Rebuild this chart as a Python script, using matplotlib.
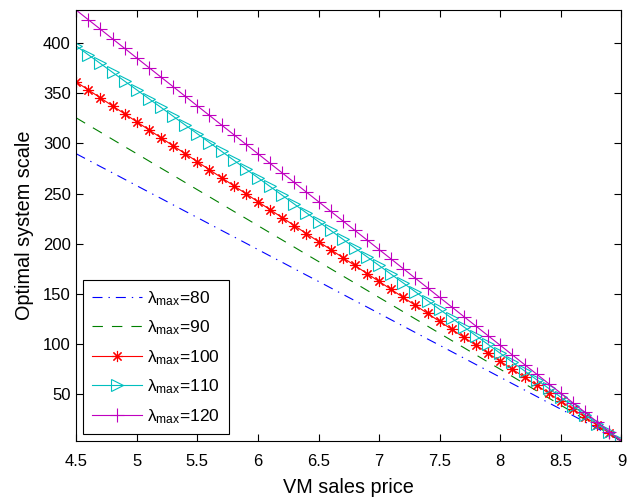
import matplotlib
matplotlib.use("Agg")
import matplotlib.pyplot as plt

plt.rcParams['font.family'] = ['Liberation Sans', 'DejaVu Sans']
plt.rcParams['mathtext.fontset'] = 'custom'
plt.rcParams['mathtext.rm'] = 'Liberation Sans'
plt.rcParams['mathtext.it'] = 'Liberation Sans:italic'
plt.rcParams['lines.scale_dashes'] = False

price = [4.5, 4.6, 4.7, 4.8, 4.9, 5.0, 5.1, 5.2, 5.3, 5.4,
         5.5, 5.6, 5.7, 5.8, 5.9, 6.0, 6.1, 6.2, 6.3, 6.4,
         6.5, 6.6, 6.7, 6.8, 6.9, 7.0, 7.1, 7.2, 7.3, 7.4,
         7.5, 7.6, 7.7, 7.8, 7.9, 8.0, 8.1, 8.2, 8.3, 8.4,
         8.5, 8.6, 8.7, 8.8, 8.9, 9.0]

scale_80 = [289.7, 283.3, 276.9, 270.6, 264.2, 257.8, 251.4, 245.1, 238.7, 232.3,
            226.0, 219.6, 213.2, 206.9, 200.5, 194.1, 187.7, 181.4, 175.0, 168.6,
            162.3, 155.9, 149.5, 143.1, 136.8, 130.4, 124.0, 117.7, 111.3, 104.9,
            98.6, 92.2, 85.8, 79.4, 73.1, 66.7, 60.3, 54.0, 47.6, 41.2,
            34.9, 28.5, 22.1, 15.7, 9.4, 3.0]

scale_90 = [325.5, 318.3, 311.2, 304.0, 296.8, 289.7, 282.5, 275.3, 268.2, 261.0,
            253.8, 246.7, 239.5, 232.3, 225.2, 218.0, 210.8, 203.7, 196.5, 189.3,
            182.2, 175.0, 167.8, 160.7, 153.5, 146.3, 139.2, 132.0, 124.8, 117.7,
            110.5, 103.3, 96.2, 89.0, 81.8, 74.7, 67.5, 60.3, 53.2, 46.0,
            38.8, 31.7, 24.5, 17.3, 10.2, 3.0]

scale_100 = [361.3, 353.4, 345.4, 337.4, 329.5, 321.5, 313.6, 305.6, 297.6, 289.7,
             281.7, 273.7, 265.8, 257.8, 249.9, 241.9, 233.9, 226.0, 218.0, 210.0,
             202.1, 194.1, 186.1, 178.2, 170.2, 162.3, 154.3, 146.3, 138.4, 130.4,
             122.4, 114.5, 106.5, 98.6, 90.6, 82.6, 74.7, 66.7, 58.7, 50.8,
             42.8, 34.9, 26.9, 18.9, 11.0, 3.0]

scale_110 = [397.2, 388.4, 379.7, 370.9, 362.1, 353.4, 344.6, 335.9, 327.1, 318.3,
             309.6, 300.8, 292.1, 283.3, 274.5, 265.8, 257.0, 248.3, 239.5, 230.7,
             222.0, 213.2, 204.5, 195.7, 186.9, 178.2, 169.4, 160.7, 151.9, 143.1,
             134.4, 125.6, 116.9, 108.1, 99.4, 90.6, 81.8, 73.1, 64.3, 55.6,
             46.8, 38.0, 29.3, 20.5, 11.8, 3.0]

scale_120 = [433.0, 423.4, 413.9, 404.3, 394.8, 385.2, 375.7, 366.1, 356.6, 347.0,
             337.4, 327.9, 318.3, 308.8, 299.2, 289.7, 280.1, 270.6, 261.0, 251.4,
             241.9, 232.3, 222.8, 213.2, 203.7, 194.1, 184.6, 175.0, 165.4, 155.9,
             146.3, 136.8, 127.2, 117.7, 108.1, 98.6, 89.0, 79.4, 69.9, 60.3,
             50.8, 41.2, 31.7, 22.1, 12.6, 3.0]

labels = ['80', '90', '100', '110', '120']
xticks = [4.5, 5, 5.5, 6, 6.5, 7, 7.5, 8, 8.5, 9]
xticklabels = ['4.5', '5', '5.5', '6', '6.5', '7', '7.5', '8', '8.5', '9']
yticks = [50, 100, 150, 200, 250, 300, 350, 400]

fig = plt.figure(figsize=(6.4, 5.03), dpi=100)
ax = fig.add_axes([0.119, 0.123, 0.852, 0.857])

lw = 0.8
lab = lambda v: 'λ$_{\\mathrm{max}}$=' + v
ax.plot(price, scale_80, color='b', lw=lw, dashes=(7.2, 4.3, 1.0, 4.3),
        label=lab(labels[0]))
ax.plot(price, scale_90, color=(0, 0.5, 0), lw=lw, dashes=(7.5, 6.5),
        label=lab(labels[1]))
ax.plot(price, scale_100, linestyle='-', color='r', lw=lw, marker=(8, 2, 0),
        markersize=8, markeredgewidth=0.8, label=lab(labels[2]))
ax.plot(price, scale_110, linestyle='-', color=(0, 0.75, 0.75), lw=lw, marker='>',
        markersize=9, markerfacecolor='none', markeredgewidth=0.8,
        label=lab(labels[3]))
ax.plot(price, scale_120, linestyle='-', color=(0.75, 0, 0.75), lw=lw, marker='+',
        markersize=9.5, markeredgewidth=0.8, label=lab(labels[4]))

ax.set_xlim(4.5, 9)
ax.set_ylim(3.0, 433.0)
ax.set_xticks(xticks)
ax.set_xticklabels(xticklabels)
ax.set_yticks(yticks)
ax.tick_params(direction='in', top=True, right=True, labelsize=12, length=5, width=0.8)
ax.tick_params(axis='x', pad=9.5)
ax.tick_params(axis='y', pad=4)
for s in ax.spines.values():
    s.set_linewidth(0.8)

ax.set_xlabel('VM sales price', fontsize=14.3, labelpad=6)
ax.set_ylabel('Optimal system scale', fontsize=14.3, labelpad=6)

leg = ax.legend(loc='lower left', fontsize=12.5, handlelength=2.9, fancybox=False,
                edgecolor='black', framealpha=1, borderaxespad=0.4,
                labelspacing=0.62, handletextpad=0.3, borderpad=0.5)
leg.get_frame().set_linewidth(0.8)

fig.savefig('out.png', dpi=100)
